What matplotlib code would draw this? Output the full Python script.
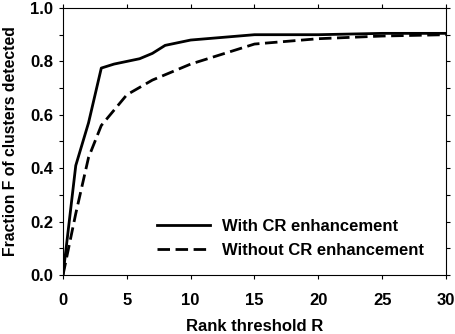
import matplotlib
matplotlib.use('Agg')
import matplotlib.pyplot as plt
from matplotlib.ticker import MultipleLocator

plt.rcParams['font.family'] = ['Liberation Sans', 'DejaVu Sans']
plt.rcParams['font.weight'] = 'bold'

# rank threshold R and fraction F of clusters detected
rank_with = [0, 1, 2, 3, 4, 5, 6, 7, 8, 10, 15, 20, 25, 30]
frac_with = [0, 0.41, 0.57, 0.775, 0.79, 0.80, 0.81, 0.83, 0.86, 0.88, 0.90, 0.90, 0.905, 0.905]

rank_without = [0, 1, 2, 3, 5, 7, 8, 10, 12, 15, 20, 25, 30]
frac_without = [0, 0.23, 0.44, 0.56, 0.675, 0.73, 0.75, 0.79, 0.82, 0.865, 0.885, 0.895, 0.90]

labels = ['With CR enhancement', 'Without CR enhancement']

fs = 12

fig = plt.figure(figsize=(4.56, 3.34), dpi=100)
ax = fig.add_axes([63 / 456, 59 / 334, 383 / 456, 267 / 334])

ax.plot(rank_with, frac_with, c='black', lw=2.0, label=labels[0])
ax.plot(rank_without, frac_without, c='black', lw=2.0, dashes=(4.5, 2.0), label=labels[1])

ax.set_xlim(0, 30)
ax.set_ylim(0, 1.0)
ax.xaxis.set_major_locator(MultipleLocator(5))
ax.yaxis.set_major_locator(MultipleLocator(0.2))
ax.yaxis.set_minor_locator(MultipleLocator(0.1))
ax.yaxis.set_major_formatter(lambda v, p: f'{v:.1f}')

ax.tick_params(which='both', direction='out', length=3, width=0.8,
               top=True, labelsize=fs)
ax.tick_params(axis='x', pad=10)
ax.tick_params(axis='y', pad=4)
# right side gets ticks at every 0.1
sec = ax.secondary_yaxis('right')
sec.yaxis.set_major_locator(MultipleLocator(0.1))
sec.tick_params(direction='out', length=3, width=0.8, labelright=False)
sec.spines['right'].set_visible(False)
ax.tick_params(axis='y', which='both', right=False)

for s in ax.spines.values():
    s.set_linewidth(0.8)

ax.set_xlabel('Rank threshold R', fontsize=fs, fontweight='bold', labelpad=8)
ax.set_ylabel('Fraction F of clusters detected', fontsize=11.3, fontweight='bold', labelpad=9)

ax.legend(loc='center left', bbox_to_anchor=(0.245, 0.137), frameon=False,
          fontsize=fs, handlelength=3.2, handletextpad=0.7, labelspacing=0.5,
          borderpad=0, borderaxespad=0)

fig.savefig('out.png', dpi=100)
